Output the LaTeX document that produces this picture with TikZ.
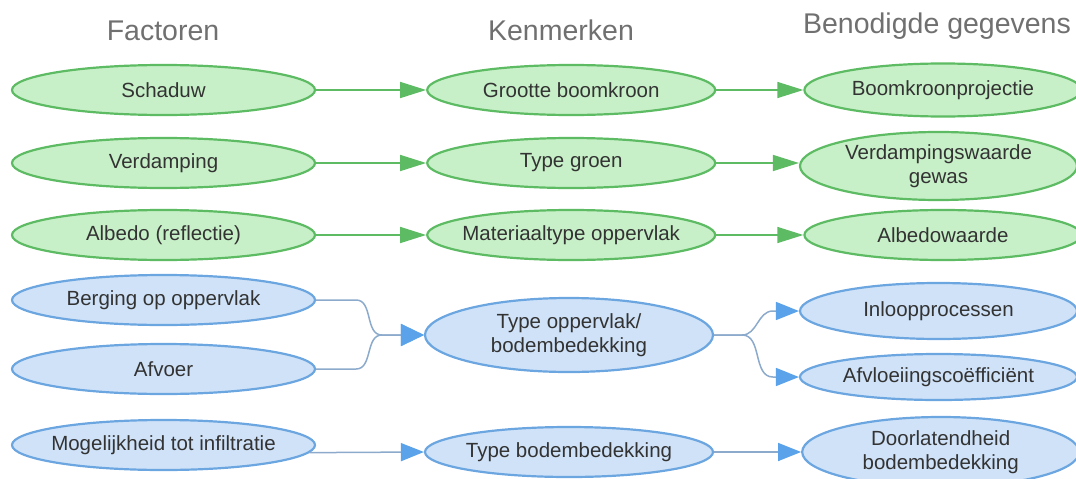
\documentclass[tikz,border=0pt]{standalone}
\usepackage{fontspec}
\setmainfont{Liberation Sans}
\usetikzlibrary{arrows.meta,positioning,shapes.geometric}

\definecolor{grfill}{HTML}{C8F0C8}
\definecolor{grline}{HTML}{5DBB63}
\definecolor{blfill}{HTML}{CFE2F8}
\definecolor{blline}{HTML}{6CA6E0}
\definecolor{bltip}{HTML}{5AA2EA}
\definecolor{bllink}{HTML}{8CAACB}
\definecolor{headgray}{HTML}{707070}
\definecolor{txtgray}{HTML}{333333}

\begin{document}
\begin{tikzpicture}[x=1pt, y=1pt,
    head/.style={text=headgray, font=\fontsize{28.5}{32}\selectfont, anchor=base},
    box/.style={ellipse, line width=2.2pt, inner xsep=-60pt, inner ysep=0pt,
        minimum height=50pt, align=center, text=txtgray,
        font=\fontsize{20.5}{24}\selectfont},
    grbox/.style={box, draw=grline, fill=grfill},
    blbox/.style={box, draw=blline, fill=blfill},
    colA/.style={minimum width=303pt},
    colB/.style={minimum width=288pt},
    colC/.style={minimum width=277pt},
    grarrow/.style={draw=grline, line width=1.6pt, -{Triangle[length=26pt,width=16pt]}},
    blarrow/.style={draw=bllink, line width=1.5pt, -{Triangle[length=23pt,width=18pt,color=bltip]}}
]
    \useasboundingbox (0,0) rectangle (1076,-479);

    % Headers
    \node[head] (hfac) at (163,-40) {Factoren};
    \node[head] (hken) at (561,-40) {Kenmerken};
    \node[head] (hgeg) at (937,-33) {Benodigde gegevens};

    % Factoren
    \node[grbox, colA] (schaduw) at (163.5,-90) {Schaduw};
    \node[grbox, colA] (verdamping) at (163.5,-163) {Verdamping};
    \node[grbox, colA] (albedo) at (163.5,-235) {Albedo (reflectie)};
    \node[blbox, colA] (berging) at (163.5,-300) {Berging op oppervlak};
    \node[blbox, colA] (afvoer) at (163.5,-369) {Afvoer};
    \node[blbox, colA] (infiltratie) at (163.5,-445) {Mogelijkheid tot infiltratie};

    % Kenmerken
    \node[grbox, colB, right=110pt of schaduw] (kroon) {Grootte boomkroon};
    \node[grbox, colB, right=110pt of verdamping] (groen) {Type groen};
    \node[grbox, colB, right=110pt of albedo] (materiaal) {Materiaaltype oppervlak};
    \node[blbox, colB, minimum height=74pt] (typeopp) at (569,-335) {Type oppervlak/\\bodembedekking};
    \node[blbox, colB] (typebodem) at (569,-452) {Type bodembedekking};

    % Benodigde gegevens
    \node[grbox, colC, minimum height=53pt, right=87pt of kroon] (projectie) {Boomkroonprojectie};
    \node[grbox, colC, minimum height=68pt] (verdampw) at (938.5,-166) {Verdampingswaarde\\gewas};
    \node[grbox, colC, right=87pt of materiaal] (albedow) {Albedowaarde};
    \node[blbox, colC, minimum height=56pt] (inloop) at (938.5,-311) {Inloopprocessen};
    \node[blbox, colC, minimum height=46pt] (afvloei) at (938.5,-377) {Afvloeiingscoëfficiënt};
    \node[blbox, colC, minimum height=70pt, right=87pt of typebodem] (doorlatend) {Doorlatendheid\\bodembedekking};

    % green links
    \draw[grarrow] (schaduw.east) -- (kroon.west);
    \draw[grarrow] (verdamping.east) -- (groen.west);
    \draw[grarrow] (albedo.east) -- (materiaal.west);
    \draw[grarrow] (kroon.east) -- (projectie.west);
    \draw[grarrow] (groen.east) -- (groen.east -| verdampw.west);
    \draw[grarrow] (materiaal.east) -- (albedow.west);

    % blue links
    \draw[blarrow, -{Triangle[length=23pt,width=22pt,color=bltip]}] (berging.east) -- ++(40pt,0) to[out=0,in=180] ([xshift=-42pt]typeopp.west) -- (typeopp.west);
    \draw[blarrow, -{Triangle[length=23pt,width=22pt,color=bltip]}] (afvoer.east) -- ++(40pt,0) to[out=0,in=180] ([xshift=-42pt]typeopp.west) -- (typeopp.west);
    \draw[blarrow] (typeopp.east) -- ++(28pt,0) to[out=0,in=180] ([xshift=-26pt]inloop.west) -- (inloop.west);
    \draw[blarrow] (typeopp.east) -- ++(28pt,0) to[out=0,in=180] ([xshift=-26pt]afvloei.west) -- (afvloei.west);
    \draw[blarrow] (infiltratie.-3) -- (typebodem.west);
    \draw[blarrow] (typebodem.east) -- (doorlatend.west);
\end{tikzpicture}
\end{document}
